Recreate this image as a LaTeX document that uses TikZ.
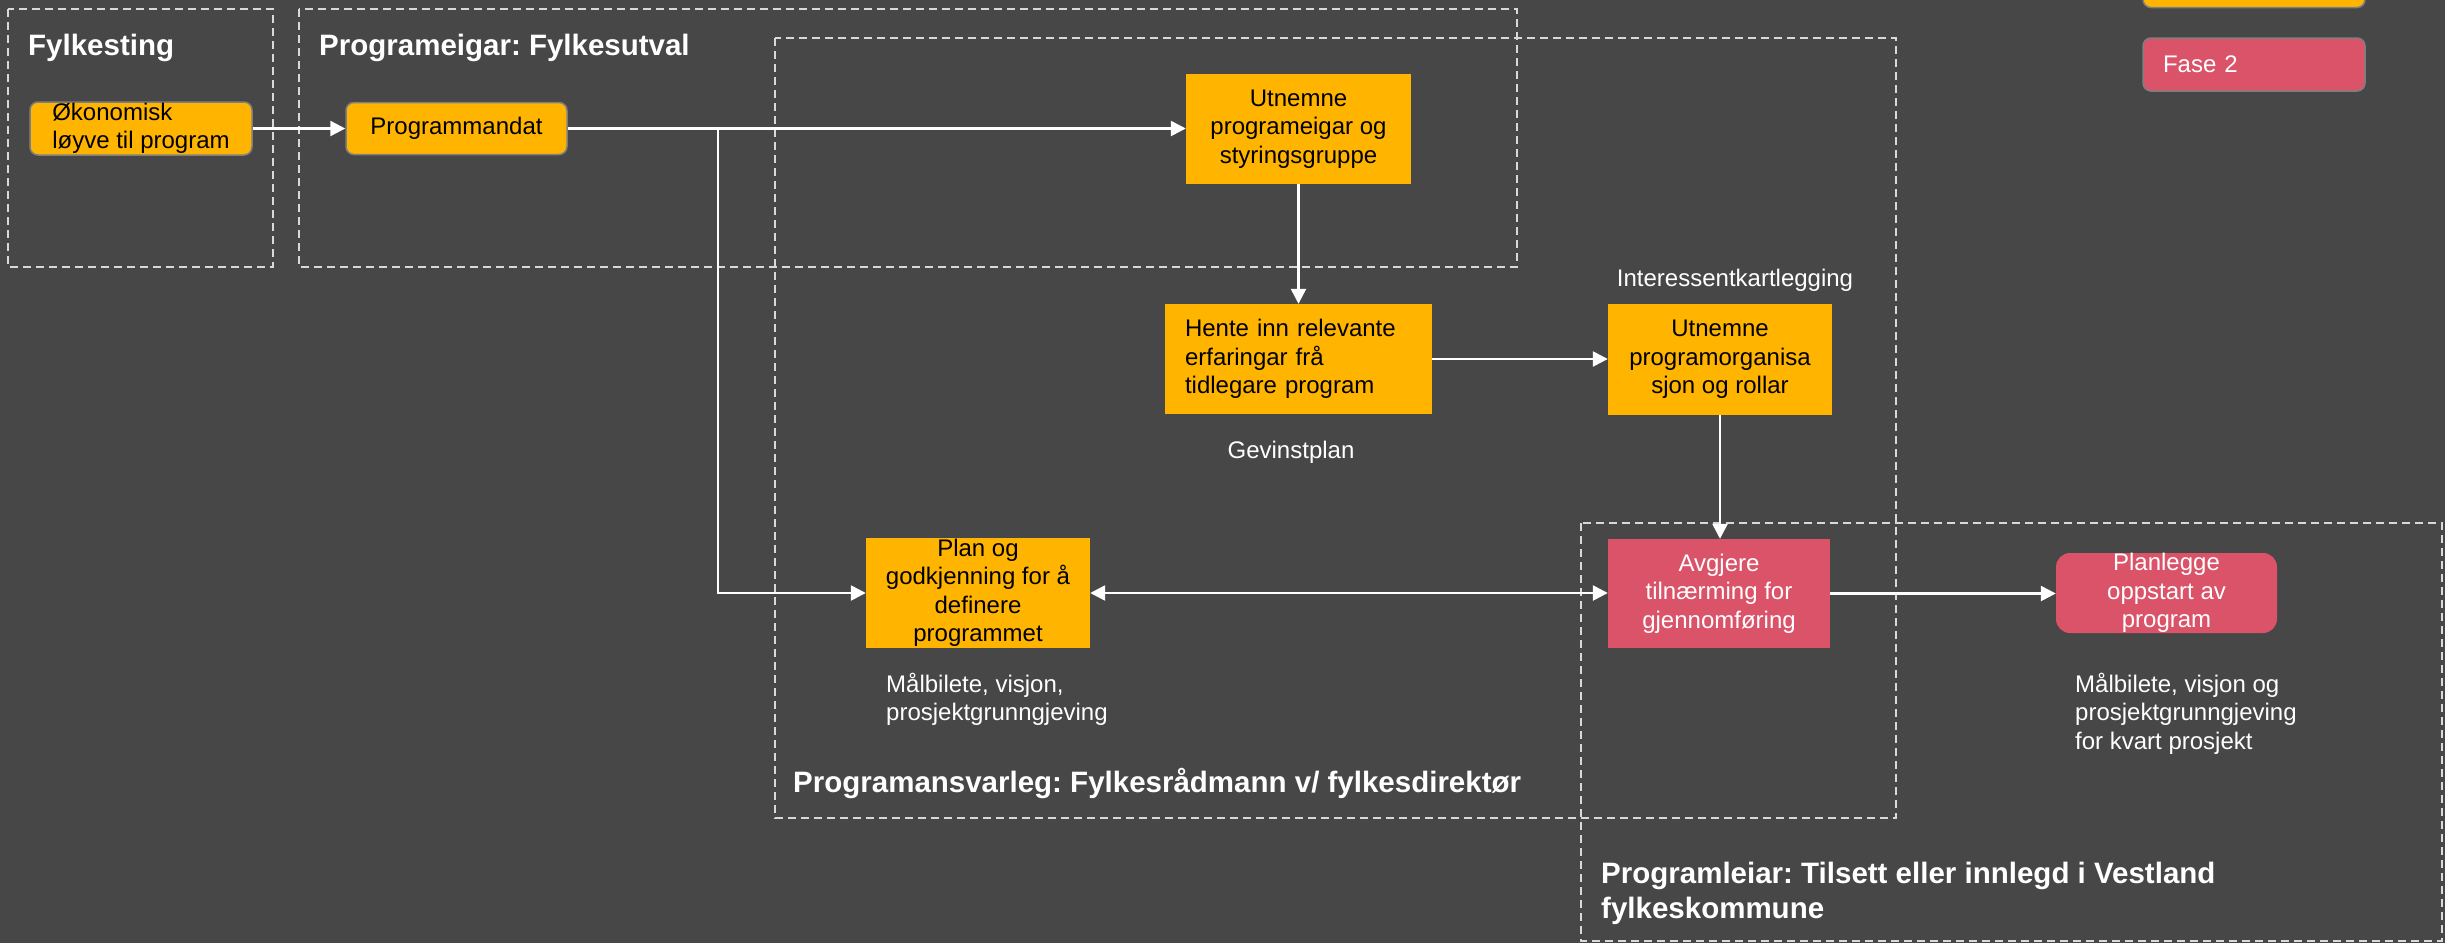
\documentclass[tikz,border=0pt]{standalone}
\usepackage{fontspec}
\setmainfont{Liberation Sans}
\usetikzlibrary{arrows.meta}
\definecolor{bg}{HTML}{474747}
\definecolor{org}{HTML}{FFB400}
\definecolor{pnk}{HTML}{DB5369}
\definecolor{dsh}{HTML}{D9D9D9}
\definecolor{bord}{HTML}{7F7F7F}
\frenchspacing
\begin{document}
\begin{tikzpicture}[x=1pt,y=-1pt,
  txt/.style={font=\fontsize{24}{28.5}\selectfont},
  box/.style={txt, inner sep=0pt, align=center, text=black},
  obox/.style={box, fill=org},
  pbox/.style={box, fill=pnk, text=white},
  rbox/.style={draw=bord, line width=1.5pt, rounded corners=8pt},
  region/.style={draw=dsh, line width=1.5pt, dash pattern=on 8pt off 5pt},
  title/.style={font=\fontsize{29.5}{35}\selectfont\bfseries, text=white, inner sep=0pt, align=left},
  note/.style={txt, text=white, inner sep=0pt, align=left},
  arr/.style={draw=white, line width=2.5pt, -{Triangle[length=15pt,width=15pt]}},
  darr/.style={draw=white, line width=2.5pt, {Triangle[length=15pt,width=15pt]}-{Triangle[length=15pt,width=15pt]}},
]
\fill[bg] (0,0) rectangle (2445,943);
\useasboundingbox (0,0) rectangle (2445,943);
\clip (0,0) rectangle (2445,943);

% regions
\draw[region] (8,9) rectangle (273,267);
\draw[region] (299,9) rectangle (1517,267);
\draw[region] (775,38) rectangle (1896,818);
\draw[region] (1581,523) rectangle (2442,941);

% titles
\node[title, anchor=base west] (t1) at (28,55) {Fylkesting};
\node[title, anchor=base west] (t2) at (319,55) {Programeigar: Fylkesutval};
\node[title, anchor=base west] (t3) at (793,792) {Programansvarleg: Fylkesrådmann v/ fylkesdirektør};
\node[title, anchor=north west] (t4) at (1601,862) {Programleiar: Tilsett eller innlegd i Vestland\\fylkeskommune};

% legend
\node[obox, rbox, minimum width=222pt, minimum height=53pt] (f1) at (2254,-19) {};
\node[pbox, rbox, align=left, text width=182pt, inner xsep=20pt, minimum height=53pt] (f2) at (2254,64.5) {Fase 2};

% boxes
\node[obox, rbox, align=left, minimum width=222pt, minimum height=53pt] (ok) at (141,128.5) {Økonomisk\\løyve til program};
\node[obox, rbox, minimum width=221pt, minimum height=52pt] (pm) at (456.5,128.5) {Programmandat};
\node[obox, minimum width=225pt, minimum height=110pt] (utn) at (1298.5,129) {Utnemne\\programeigar og\\styringsgruppe};
\node[obox, align=left, text width=227pt, inner xsep=20pt, minimum height=110pt] (hente) at (1298.5,359) {Hente inn relevante\\erfaringar frå\\tidlegare program};
\node[obox, minimum width=224pt, minimum height=111pt] (utn2) at (1720,359.5) {Utnemne\\programorganisa\\sjon og rollar};
\node[obox, minimum width=224pt, minimum height=110pt] (plan) at (978,593) {Plan og\\godkjenning for å\\definere\\programmet};
\node[pbox, minimum width=222pt, minimum height=109pt] (avg) at (1719,593.5) {Avgjere\\tilnærming for\\gjennomføring};
\node[pbox, rounded corners=14pt, minimum width=221pt, minimum height=80pt] (plg) at (2166.5,593) {Planlegge\\oppstart av\\program};

% notes
\node[note, anchor=base] (ik) at (1735,286.5) {Interessentkartlegging};
\node[note, anchor=base] (gp) at (1291,458) {Gevinstplan};
\node[note, anchor=north west] (mb1) at (886,672.5) {Målbilete, visjon,\\prosjektgrunngjeving};
\node[note, anchor=north west] (mb2) at (2075,672.5) {Målbilete, visjon og\\prosjektgrunngjeving\\for kvart prosjekt};

% connectors
\coordinate (br) at (718,128.5);
\draw[arr] (ok.east) -- (pm.west);
\draw[arr] (pm.east) -- (pm.east -| utn.west);
\draw[arr] (br) |- (plan.west);
\draw[arr] (utn.south) -- (hente.north);
\draw[arr] (hente.east) -- (hente.east -| utn2.west);
\draw[arr] (utn2.south) -- (utn2.south |- avg.north);
\draw[darr] (plan.east) -- (plan.east -| avg.west);
\draw[arr] (avg.east) -- (avg.east -| plg.west);
\end{tikzpicture}
\end{document}
